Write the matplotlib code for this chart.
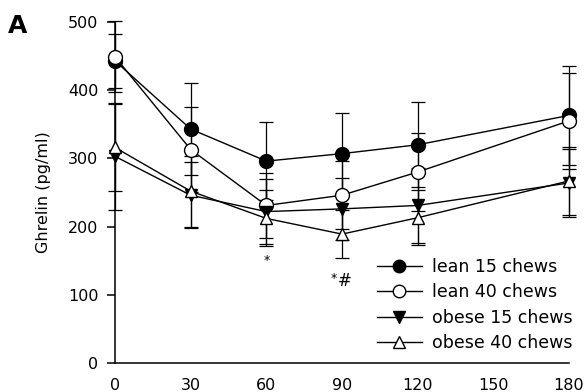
import matplotlib
matplotlib.use("Agg")
import matplotlib.pyplot as plt

# Ghrelin time course (minutes after meal)
time = [0, 30, 60, 90, 120, 180]

lean15 = [443, 343, 296, 307, 320, 363]
lean15_err = [40, 67, 57, 59, 62, 73]
lean40 = [449, 313, 231, 246, 280, 355]
lean40_err = [52, 63, 47, 50, 57, 70]
obese15 = [303, 246, 222, 226, 231, 264]
obese15_err = [78, 48, 48, 45, 55, 50]
obese40 = [316, 252, 212, 189, 213, 267]
obese40_err = [64, 52, 41, 35, 40, 50]

labels = ["lean 15 chews", "lean 40 chews", "obese 15 chews", "obese 40 chews"]
xticks = [0, 30, 60, 90, 120, 150, 180]
yticks = [0, 100, 200, 300, 400, 500]

plt.rcParams["font.family"] = ["DejaVu Sans"]

fig = plt.figure(figsize=(5.88, 3.92), dpi=100)
ax = fig.add_axes([115 / 588, 29 / 392, 454 / 588, 341 / 392])

series = [
    (lean15, lean15_err, "o", "black"),
    (lean40, lean40_err, "o", "white"),
    (obese15, obese15_err, "v", "black"),
    (obese40, obese40_err, "^", "white"),
]

for (vals, err, mk, fc), lab in zip(series, labels):
    ax.errorbar(time, vals, yerr=err, fmt="none", ecolor="black",
                elinewidth=0.9, capsize=5, capthick=0.9, zorder=2, clip_on=False)
    ax.plot(time, vals, color="black", lw=1.0, marker=mk, markersize=10 if mk == "o" else 9,
            markerfacecolor=fc, markeredgecolor="black", markeredgewidth=1.0,
            label=lab, zorder=3, clip_on=False)

# significance marks
ax.text(60, 150, "*", ha="center", va="center", fontsize=9)
ax.text(88, 124, "*", ha="right", va="center", fontsize=9)
ax.text(88.5, 120, "#", ha="left", va="center", fontsize=12)

ax.set_xlim(0, 180)
ax.set_ylim(0, 500)
ax.set_xticks(xticks)
ax.set_yticks(yticks)
ax.tick_params(axis="y", direction="out", length=6, width=1.1, labelsize=11.5, pad=6)
ax.tick_params(axis="x", length=0, labelsize=11.5, pad=11)
for side in ["top", "right"]:
    ax.spines[side].set_visible(False)
for side in ["left", "bottom"]:
    ax.spines[side].set_linewidth(1.1)

ax.set_ylabel("Ghrelin (pg/ml)", fontsize=11.5, labelpad=12)

ax.legend(loc="lower right", bbox_to_anchor=(1.024, 0.012), frameon=False,
          fontsize=12.5, handlelength=2.6, handletextpad=0.6, labelspacing=0.42,
          borderaxespad=0, markerscale=0.9)

fig.text(8 / 588, 1 - 33 / 392, "A", fontsize=18, fontweight="bold", ha="left", va="baseline")

fig.savefig("out.png", dpi=100)
